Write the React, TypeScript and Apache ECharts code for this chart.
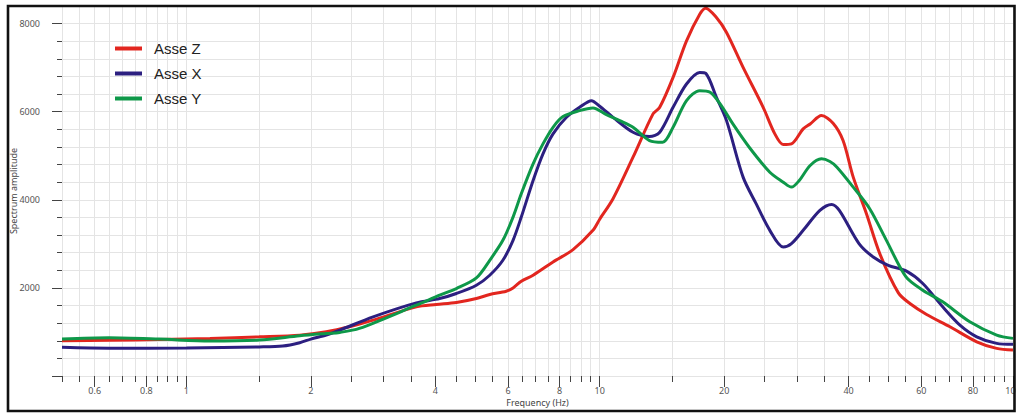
import React, { useEffect, useRef } from "react";
import * as echarts from "echarts";

// Asse Z (red)
const zFreq = [0.5, 0.65, 0.86, 1.14, 1.5, 1.88, 2.18, 2.48, 2.83, 3.6, 4.02, 4.5, 5.03, 5.42, 5.94, 6.17, 6.46, 6.9, 7.71, 8.62, 9.63, 10.0, 10.77, 12.04, 13.46, 13.97, 15.05, 16.22, 17.46, 18.06, 19.16, 20.27, 22.23, 24.86, 26.53, 27.79, 29.1, 31.07, 32.3, 34.4, 36.7, 38.8, 41.06, 44.2, 47.6, 52.8, 56.3, 61.8, 70.4, 81.7, 91.3, 100];
const zVal = [800, 810, 830, 853, 890, 928, 1004, 1117, 1268, 1570, 1623, 1668, 1759, 1850, 1925, 2000, 2152, 2288, 2589, 2870, 3307, 3560, 4024, 4967, 5950, 6100, 6779, 7610, 8215, 8351, 8138, 7799, 7006, 6100, 5497, 5255, 5270, 5610, 5723, 5912, 5738, 5345, 4515, 3685, 2779, 1887, 1646, 1397, 1117, 777, 627, 589];

// Asse X (blue)
const xFreq = [0.5, 0.65, 1.0, 1.5, 1.71, 1.88, 2.0, 2.18, 2.35, 2.83, 3.6, 4.1, 4.5, 5.03, 5.42, 5.83, 6.17, 6.46, 6.9, 7.29, 7.71, 8.31, 8.94, 9.55, 10.0, 10.77, 12.04, 13.2, 13.97, 15.05, 16.22, 17.46, 18.06, 19.16, 20.27, 22.23, 23.9, 25.8, 27.8, 29.1, 31.07, 34.1, 36.4, 38.0, 42.4, 45.9, 49.9, 55.1, 60.5, 67.6, 74.4, 81.7, 91.3, 100];
const xVal = [650, 630, 635, 660, 680, 755, 838, 930, 1042, 1343, 1660, 1759, 1873, 2061, 2288, 2627, 3080, 3608, 4439, 5044, 5497, 5873, 6100, 6251, 6125, 5873, 5533, 5436, 5533, 6100, 6630, 6892, 6870, 6326, 5798, 4515, 3912, 3307, 2929, 3006, 3307, 3760, 3896, 3760, 3006, 2702, 2514, 2385, 2100, 1570, 1155, 890, 740, 718];

// Asse Y (green)
const yFreq = [0.5, 0.65, 0.86, 1.14, 1.5, 1.88, 2.18, 2.35, 2.62, 3.6, 4.1, 4.5, 5.03, 5.42, 5.83, 6.17, 6.46, 6.9, 7.29, 7.71, 8.15, 8.94, 9.63, 10.38, 11.18, 12.04, 13.2, 14.2, 15.05, 16.22, 17.46, 18.5, 19.56, 21.0, 23.0, 25.8, 27.8, 29.1, 30.4, 32.3, 34.4, 36.06, 37.5, 41.06, 45.0, 49.4, 55.1, 60.5, 67.6, 78.6, 91.3, 100];
const yVal = [838, 868, 838, 793, 815, 913, 966, 990, 1080, 1608, 1835, 1986, 2227, 2627, 3080, 3608, 4138, 4817, 5270, 5647, 5889, 6025, 6086, 5934, 5798, 5647, 5345, 5307, 5647, 6251, 6478, 6440, 6176, 5723, 5194, 4627, 4401, 4288, 4439, 4779, 4930, 4870, 4741, 4288, 3798, 3080, 2249, 1948, 1683, 1230, 929, 854];

const seriesNames = ["Asse Z", "Asse X", "Asse Y"];
const seriesColors = ["#e2261f", "#2c1f80", "#0e9849"];

// Axis ticks
const xAllTicks = [
  0.5, 0.55, 0.6, 0.65, 0.7, 0.75, 0.8, 0.85, 0.9, 0.95,
  1, 1.5, 2, 2.5, 3, 3.5, 4, 4.5, 5, 5.5, 6, 6.5, 7, 7.5, 8, 8.5, 9, 9.5,
  10, 15, 20, 25, 30, 35, 40, 45, 50, 55, 60, 65, 70, 75, 80, 85, 90, 95, 100,
];
const xMajorTicks = [0.6, 0.8, 1, 2, 4, 6, 8, 10, 20, 40, 60, 80, 100];
const yMajorTicks = [0, 2000, 4000, 6000, 8000];
const yLabelTicks = [2000, 4000, 6000, 8000];

const pairs = (f: number[], v: number[]) => f.map((x, i) => [x, v[i]]);

export default function App() {
  const ref = useRef<HTMLDivElement>(null);
  useEffect(() => {
    document.body.style.margin = "0";
    if (!ref.current) return;
    const chart = echarts.init(ref.current, undefined, { renderer: "svg" });
    const tickFont = { fontFamily: "Noto Sans", fontSize: 9, color: "#555" };
    const fmt = (v: number) => String(parseFloat(Number(v).toFixed(3)));
    chart.setOption({
      animation: false,
      backgroundColor: "#fff",
      grid: { left: 62, right: 11, top: 6, bottom: 43, containLabel: false, outerBoundsMode: "none" },
      legend: {
        orient: "vertical",
        left: 110,
        top: 36,
        itemGap: 10,
        itemWidth: 27,
        itemHeight: 4,
        icon: "rect",
        data: seriesNames,
        textStyle: { fontFamily: "Liberation Sans", fontSize: 15, color: "#222", padding: [0, 0, 0, 7] },
      },
      xAxis: [
        {
          type: "log",
          logBase: 10,
          min: 0.5,
          max: 100,
          axisLine: { show: false },
          axisTick: { show: true, length: 6, customValues: xAllTicks, lineStyle: { color: "#444" } },
          axisLabel: { show: false },
          splitLine: { show: true, lineStyle: { color: "#e4e4e4", width: 1 } },
        },
        {
          type: "log",
          logBase: 10,
          min: 0.5,
          max: 100,
          position: "bottom",
          axisLine: { show: false },
          axisTick: { show: true, length: 11, customValues: xMajorTicks, lineStyle: { color: "#444" } },
          axisLabel: { show: true, customValues: xMajorTicks, margin: 10, formatter: fmt, ...tickFont },
          splitLine: { show: false },
          name: "Frequency (Hz)",
          nameLocation: "middle",
          nameGap: 22,
          nameMoveOverlap: false,
          nameTextStyle: { fontFamily: "Noto Sans", fontSize: 9, color: "#444" },
        },
      ],
      yAxis: [
        {
          type: "value",
          min: 0,
          max: 8400,
          interval: 400,
          axisLine: { show: false },
          axisTick: { show: true, length: 5, lineStyle: { color: "#444" } },
          axisLabel: { show: false },
          splitLine: { show: true, lineStyle: { color: "#e4e4e4", width: 1 } },
        },
        {
          type: "value",
          min: 0,
          max: 8400,
          position: "left",
          axisLine: { show: false },
          axisTick: { show: true, length: 10, customValues: yMajorTicks, lineStyle: { color: "#444" } },
          axisLabel: { show: true, customValues: yLabelTicks, margin: 22, formatter: (v: number) => String(v), ...tickFont },
          splitLine: { show: false },
          name: "Spectrum amplitude",
          nameLocation: "middle",
          nameGap: 44,
          nameMoveOverlap: false,
          nameTextStyle: { fontFamily: "Noto Sans", fontSize: 9, color: "#444" },
        },
      ],
      series: [
        { name: seriesNames[0], data: pairs(zFreq, zVal) },
        { name: seriesNames[1], data: pairs(xFreq, xVal) },
        { name: seriesNames[2], data: pairs(yFreq, yVal) },
      ].map((s, i) => ({
        ...s,
        type: "line",
        xAxisIndex: 0,
        yAxisIndex: 0,
        showSymbol: false,
        smooth: 0.3,
        color: seriesColors[i],
        lineStyle: { width: 3, color: seriesColors[i] },
      })),
      graphic: [
        { type: "rect", z: 100, shape: { x: 1016, y: 0, width: 8, height: 419 }, style: { fill: "#fff" } },
        { type: "rect", z: 101, shape: { x: 8, y: 6, width: 1006.5, height: 405 }, style: { fill: "none", stroke: "#111", lineWidth: 2.6 } },
      ],
    });
    return () => chart.dispose();
  }, []);
  return <div ref={ref} style={{ width: 1024, height: 419 }} />;
}
